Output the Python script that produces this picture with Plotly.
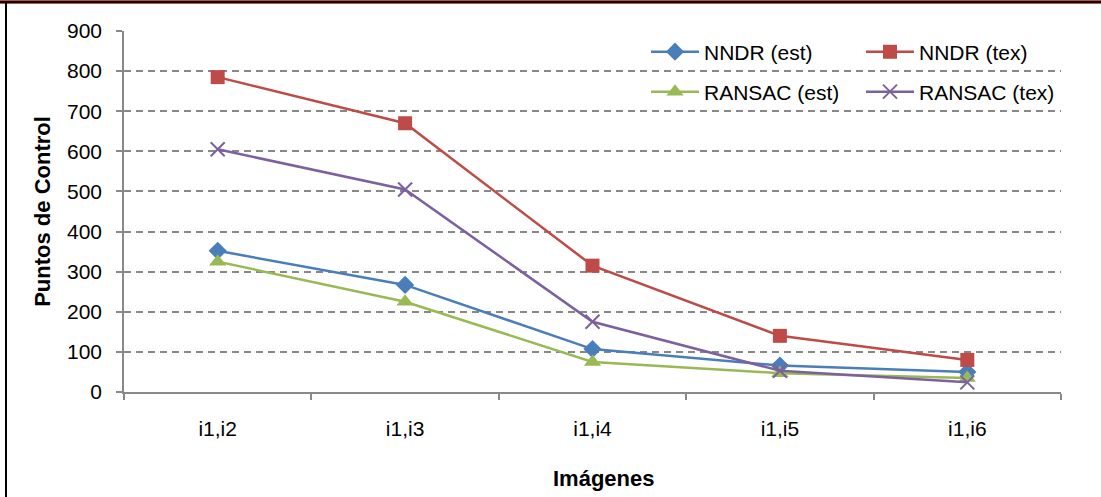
import plotly.graph_objects as go

categories = ["i1,i2", "i1,i3", "i1,i4", "i1,i5", "i1,i6"]
nndr_est = [352, 267, 107, 66, 50]
nndr_tex = [785, 670, 315, 140, 80]
ransac_est = [325, 225, 75, 47, 35]
ransac_tex = [605, 505, 175, 53, 24]
y_ticks = [0, 100, 200, 300, 400, 500, 600, 700, 800, 900]

W, H = 1101, 497
L, R, T, B = 124, 40, 31, 105
pw, ph = W - L - R, H - T - B

def px(x):
    return (x - L) / pw

def py(y):
    return (H - B - y) / ph

FONT = "Liberation Sans, Arial, sans-serif"
FS = 21

fig = go.Figure()
series = [
    ("NNDR (est)", nndr_est, "#4a7ebb", "diamond", 14, "legend"),
    ("NNDR (tex)", nndr_tex, "#be4b48", "square", 14, "legend"),
    ("RANSAC (est)", ransac_est, "#98b954", "triangle-up", 15, "legend2"),
    ("RANSAC (tex)", ransac_tex, "#7d60a0", "x-thin-open", 14, "legend2"),
]
for name, vals, col, sym, size, lg in series:
    mk = dict(symbol=sym, size=size, color=col)
    if sym.endswith("open"):
        mk["line"] = dict(color=col, width=2)
    else:
        mk["line"] = dict(width=0)
    fig.add_trace(go.Scatter(
        x=categories, y=vals, name=name, mode="lines+markers",
        line=dict(color=col, width=2.5), marker=mk, legend=lg,
    ))

legend_common = dict(
    orientation="h", xanchor="left", yanchor="middle",
    bgcolor="rgba(0,0,0,0)", font=dict(family=FONT, size=FS, color="#000"),
    entrywidth=152, entrywidthmode="pixels", itemwidth=48,
)
fig.update_layout(
    width=W, height=H,
    margin=dict(l=L, r=R, t=T, b=B),
    paper_bgcolor="white", plot_bgcolor="white",
    font=dict(family=FONT, size=FS, color="#000"),
    showlegend=True,
    legend=dict(x=px(646), y=py(52), **legend_common),
    legend2=dict(x=px(646), y=py(92), **legend_common),
    xaxis=dict(
        type="category", range=[-0.5, 4.5], tickson="boundaries",
        showline=True, linecolor="#898989", linewidth=1.5,
        ticks="outside", ticklen=6, tickwidth=1.5, tickcolor="#898989",
        showgrid=False, zeroline=False, ticklabelstandoff=17,
        tickfont=dict(family=FONT, size=FS, color="#000"),
    ),
    yaxis=dict(
        range=[0, 900], tickvals=y_ticks,
        showline=True, linecolor="#898989", linewidth=1.5,
        ticks="outside", ticklen=6, tickwidth=1.5, tickcolor="#898989",
        showgrid=True, gridcolor="#888888", gridwidth=1.5, griddash="7px,5px",
        zeroline=False, ticklabelstandoff=10,
        tickfont=dict(family=FONT, size=FS, color="#000"),
        title=dict(text="<b>Puntos de Control</b>", standoff=10,
                   font=dict(family=FONT, size=22, color="#000")),
    ),
    annotations=[dict(
        text="<b>Imágenes</b>", xref="paper", yref="paper",
        x=px(604), y=py(479), xanchor="center", yanchor="middle",
        showarrow=False, font=dict(family=FONT, size=22, color="#000"),
    )],
    shapes=[
        dict(type="rect", xref="paper", yref="paper", x0=px(0), x1=px(W),
             y0=py(4), y1=py(0), fillcolor="#c0504d", line=dict(width=0), layer="above"),
        dict(type="rect", xref="paper", yref="paper", x0=px(0), x1=px(W),
             y0=py(3), y1=py(1), fillcolor="#000000", line=dict(width=0), layer="above"),
        dict(type="rect", xref="paper", yref="paper", x0=px(5), x1=px(7),
             y0=py(H), y1=py(3), fillcolor="#000000", line=dict(width=0), layer="above"),
    ],
)

fig.write_html("out.html")
